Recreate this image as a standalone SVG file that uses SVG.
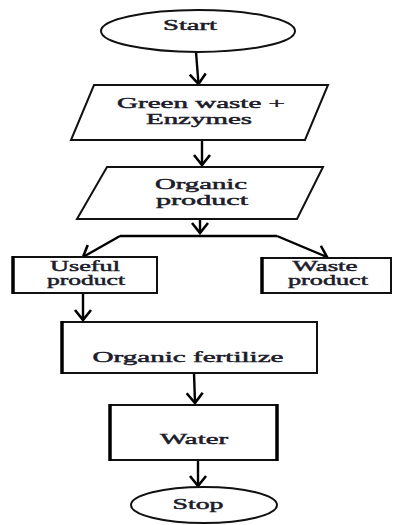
<svg xmlns="http://www.w3.org/2000/svg" width="393" height="525" viewBox="0 0 393 525">
  <defs>
    <marker id="arr" markerUnits="userSpaceOnUse" markerWidth="14" markerHeight="20" viewBox="0 0 14 20" refX="12" refY="10" orient="auto">
      <path d="M2,2 L12,10 L2,18" fill="none" stroke="#000" stroke-width="2.6" stroke-linejoin="miter"/>
    </marker>
  </defs>
  <style>
    .shape { fill: #fff; stroke: #111; stroke-width: 2; }
    .edge { fill: none; stroke: #000; stroke-width: 2.4; }
    .thick { stroke: #000; stroke-width: 3.5; }
    .lbl { font-family: "Liberation Serif", "Times New Roman", serif; font-weight: normal; font-size: 14px; fill: #1c1c2a; stroke: #1c1c2a; stroke-width: 0.45; text-anchor: middle; }
  </style>
  <rect width="393" height="525" fill="#fff"/>

  <g id="connectors">
    <path class="edge" d="M196,52 L198.5,84" marker-end="url(#arr)"/>
    <path class="edge" d="M202,140 L202,165" marker-end="url(#arr)"/>
    <path class="edge" d="M200,219 L200,233" marker-end="url(#arr)"/>
    <path class="edge" d="M120,236 L277,236"/>
    <path class="edge" d="M120,236 L83,257" marker-end="url(#arr)"/>
    <path class="edge" d="M277,236 L327,257" marker-end="url(#arr)"/>
    <path class="edge" d="M83,293 L83,320" marker-end="url(#arr)"/>
    <path class="edge" d="M194,373 L195,403" marker-end="url(#arr)"/>
    <path class="edge" d="M198,460 L198,486" marker-end="url(#arr)"/>
  </g>

  <g id="start">
    <ellipse class="shape" cx="198" cy="31" rx="97" ry="21"/>
    <text class="lbl" x="190" y="30" font-size="13" textLength="54" lengthAdjust="spacingAndGlyphs">Start</text>
  </g>

  <g id="green-waste">
    <polygon class="shape" points="94,85 328,85 305,140 71,140"/>
    <text class="lbl" x="201" y="108" font-size="15" textLength="168" lengthAdjust="spacingAndGlyphs">Green waste +</text>
    <text class="lbl" x="199" y="124" font-size="15" textLength="106" lengthAdjust="spacingAndGlyphs">Enzymes</text>
  </g>

  <g id="organic-product">
    <polygon class="shape" points="107,167 323,167 297,219 77,219"/>
    <text class="lbl" x="201" y="189" font-size="15" textLength="92" lengthAdjust="spacingAndGlyphs">Organic</text>
    <text class="lbl" x="202" y="205" font-size="15" textLength="92" lengthAdjust="spacingAndGlyphs">product</text>
  </g>

  <g id="useful-product">
    <rect class="shape" x="13" y="257" width="144" height="36"/>
    <line class="thick" x1="13" y1="256" x2="13" y2="294"/>
    <text class="lbl" x="85" y="271" font-size="13" textLength="70" lengthAdjust="spacingAndGlyphs">Useful</text>
    <text class="lbl" x="86" y="285" font-size="13" textLength="78" lengthAdjust="spacingAndGlyphs">product</text>
  </g>

  <g id="waste-product">
    <rect class="shape" x="262" y="258" width="129" height="35"/>
    <line class="thick" x1="262" y1="257" x2="262" y2="294"/>
    <text class="lbl" x="325" y="271" font-size="13" textLength="65" lengthAdjust="spacingAndGlyphs">Waste</text>
    <text class="lbl" x="328" y="285" font-size="13" textLength="80" lengthAdjust="spacingAndGlyphs">product</text>
  </g>

  <g id="organic-fertilize">
    <rect class="shape" x="62" y="322" width="255" height="51"/>
    <line class="thick" x1="62" y1="321" x2="62" y2="374"/>
    <text class="lbl" x="188" y="362" font-size="14" textLength="191" lengthAdjust="spacingAndGlyphs">Organic fertilize</text>
  </g>

  <g id="water">
    <rect class="shape" x="110" y="405" width="167" height="55"/>
    <line class="thick" x1="110" y1="404" x2="110" y2="461"/>
    <line class="thick" x1="277" y1="404" x2="277" y2="461"/>
    <text class="lbl" x="194" y="444" font-size="14" textLength="68" lengthAdjust="spacingAndGlyphs">Water</text>
  </g>

  <g id="stop">
    <ellipse class="shape" cx="204" cy="505" rx="73" ry="18"/>
    <text class="lbl" x="198" y="509" font-size="13" textLength="51" lengthAdjust="spacingAndGlyphs">Stop</text>
  </g>
</svg>
